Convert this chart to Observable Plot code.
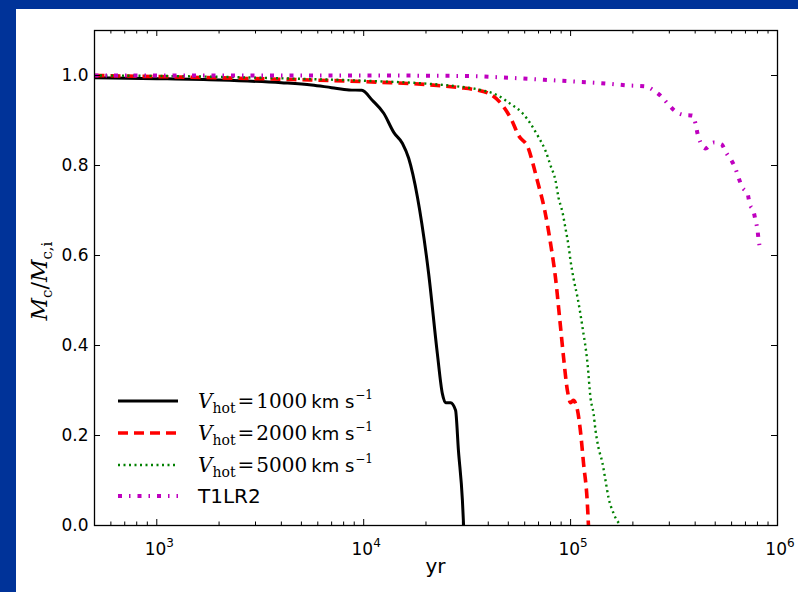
<!DOCTYPE html>
<html>
<head>
<meta charset="utf-8">
<script src="https://cdn.jsdelivr.net/npm/d3@7"></script>
<script src="https://cdn.jsdelivr.net/npm/@observablehq/plot@0.6"></script>
<style>
  html, body { margin: 0; padding: 0; background: white; }
  #wrap { position: relative; width: 798px; height: 592px; overflow: hidden; }
  #wrap svg { position: absolute; left: 0; top: 0; }
  .band { position: absolute; background: #003399; }
</style>
</head>
<body>
<div id="wrap">
  <div id="chart"></div>
  <div class="band" style="left:0;top:0;width:16px;height:592px;"></div>
  <div class="band" style="left:0;top:0;width:798px;height:9px;"></div>
</div>
<script>
// ---- data ----
const seriesNames = ["Vhot1000", "Vhot2000", "Vhot5000", "T1LR2"];

const blackT = [500, 1000, 2000, 4000, 5600, 7000, 8500, 9800, 11000, 12500, 14000, 15400, 16500, 18200, 20600, 22700, 24000, 24900, 26300, 27800, 28700, 30000, 30400];
const blackM = [0.995, 0.993, 0.990, 0.984, 0.979, 0.973, 0.968, 0.967, 0.945, 0.916, 0.873, 0.849, 0.816, 0.729, 0.560, 0.382, 0.293, 0.273, 0.273, 0.256, 0.167, 0.056, 0.0];

const redT = [500, 1500, 4600, 12000, 20000, 29000, 34000, 41000, 47000, 52000, 56000, 62500, 65500, 69000, 75000, 80000, 84500, 89000, 92500, 96500, 100000, 103000, 108000, 111500, 115500, 120500, 122000];
const redM = [1.0, 0.996, 0.991, 0.985, 0.980, 0.973, 0.969, 0.958, 0.933, 0.900, 0.867, 0.838, 0.807, 0.767, 0.700, 0.627, 0.551, 0.450, 0.373, 0.300, 0.273, 0.278, 0.256, 0.211, 0.138, 0.049, 0.0];

const greenT = [500, 1500, 4600, 12000, 20000, 29400, 36700, 44400, 51200, 58600, 64000, 70000, 75600, 80000, 84500, 87400, 91400, 94500, 97700, 99900, 103300, 108000, 114200, 120700, 124800, 129100, 132000, 136400, 142700, 147500, 152500, 161300, 174300];
const greenM = [1.0, 0.998, 0.993, 0.987, 0.982, 0.975, 0.968, 0.956, 0.937, 0.916, 0.893, 0.863, 0.833, 0.800, 0.767, 0.729, 0.696, 0.660, 0.622, 0.589, 0.549, 0.507, 0.440, 0.360, 0.284, 0.249, 0.211, 0.173, 0.138, 0.100, 0.062, 0.027, 0.0];

const magT = [500, 2000, 10000, 30000, 50000, 71500, 100000, 150800, 188400, 230200, 251700, 275100, 294000, 317900, 347500, 388400, 401600, 410600, 424600, 448800, 490700, 536400, 567000, 599500, 626700, 648000, 677500, 716300, 732500, 765800, 783100, 800800, 809700, 827900];
const magM = [1.0, 1.0, 1.0, 0.999, 0.995, 0.991, 0.987, 0.982, 0.978, 0.976, 0.967, 0.953, 0.938, 0.922, 0.913, 0.911, 0.893, 0.871, 0.851, 0.838, 0.851, 0.847, 0.827, 0.811, 0.793, 0.773, 0.751, 0.738, 0.716, 0.698, 0.678, 0.656, 0.636, 0.613];

const xMajorTicks = [1e3, 1e4, 1e5, 1e6];
const xMinorTicks = [600, 700, 800, 900,
  2000, 3000, 4000, 5000, 6000, 7000, 8000, 9000,
  20000, 30000, 40000, 50000, 60000, 70000, 80000, 90000,
  200000, 300000, 400000, 500000, 600000, 700000, 800000, 900000];
const yTicks = [0.0, 0.2, 0.4, 0.6, 0.8, 1.0];
const xTickBase = "10";
const xTickExponents = ["3", "4", "5", "6"];

const legendLabels = [
  {sym: "V", sub: "hot", num: "1000", unit: "km s", sup: "−1"},
  {sym: "V", sub: "hot", num: "2000", unit: "km s", sup: "−1"},
  {sym: "V", sub: "hot", num: "5000", unit: "km s", sup: "−1"},
  {plain: "T1LR2"}
];

// ---- build tables ----
const toRows = (T, M) => T.map((t, i) => ({t, m: M[i]}));
const black = toRows(blackT, blackM);
const red = toRows(redT, redM);
const green = toRows(greenT, greenM);
const mag = toRows(magT, magM);

const styles = [
  {stroke: "black", strokeWidth: 3, dash: null},
  {stroke: "#ff0000", strokeWidth: 3.6, dash: "10,6"},
  {stroke: "#008000", strokeWidth: 2.4, dash: "2,3.5"},
  {stroke: "#bf00bf", strokeWidth: 4, dash: "4,7,1.5,7"}
];

const W = 798, H = 592, ML = 94, MR = 21, MT = 30, MB = 67;
const PW = W - ML - MR, PH = H - MT - MB;
const major = 6, minor = 3.5;

function lineMark(rows, s) {
  return Plot.line(rows, {
    x: "t", y: "m", stroke: s.stroke, strokeWidth: s.strokeWidth,
    strokeDasharray: s.dash || undefined,
    strokeLinecap: "butt", strokeLinejoin: "round", curve: "monotone-x"
  });
}

const svg = Plot.plot({
  width: W, height: H,
  marginLeft: ML, marginRight: MR, marginTop: MT, marginBottom: MB,
  style: {fontFamily: "DejaVu Sans", background: "white", color: "black", overflow: "visible"},
  x: {type: "log", domain: [500, 1e6], axis: null},
  y: {domain: [0, 1.1]},
  marks: [
    lineMark(black, styles[0]),
    lineMark(red, styles[1]),
    lineMark(green, styles[2]),
    lineMark(mag, styles[3]),
    // inward ticks
    Plot.tickX(xMajorTicks, {x: d => d, insetTop: PH - major, stroke: "black", strokeWidth: 1}),
    Plot.tickX(xMajorTicks, {x: d => d, insetBottom: PH - major, stroke: "black", strokeWidth: 1}),
    Plot.tickX(xMinorTicks, {x: d => d, insetTop: PH - minor, stroke: "black", strokeWidth: 1}),
    Plot.tickX(xMinorTicks, {x: d => d, insetBottom: PH - minor, stroke: "black", strokeWidth: 1}),
    Plot.tickY(yTicks, {y: d => d, insetRight: PW - major, stroke: "black", strokeWidth: 1}),
    Plot.tickY(yTicks, {y: d => d, insetLeft: PW - major, stroke: "black", strokeWidth: 1}),
    Plot.axisY(yTicks, {tickSize: 0, tickPadding: 6, fontSize: 17,
      tickFormat: d => d.toFixed(1), label: null}),
    Plot.frame({stroke: "black", strokeWidth: 1.3})
  ]
});
document.getElementById("chart").appendChild(svg);

const s = d3.select(svg);
const sx = svg.scale("x");

// x tick labels 10^n, placed through the plot's x scale
const xl = s.append("g").attr("text-anchor", "middle").attr("font-family", "DejaVu Sans").attr("fill", "black");
xMajorTicks.forEach((v, i) => {
  const t = xl.append("text")
    .attr("x", sx.apply(v) + 3).attr("y", 555)
    .attr("text-anchor", "middle")
    .attr("font-size", 17);
  t.append("tspan").text(xTickBase);
  t.append("tspan").attr("font-size", 12).attr("dy", -8).text(xTickExponents[i]);
});

// axis title
s.append("text")
  .attr("x", ML + PW / 2).attr("y", 573)
  .attr("text-anchor", "middle")
  .attr("font-family", "DejaVu Sans").attr("font-size", 20)
  .attr("fill", "black")
  .text("yr");

const yl = s.append("text")
  .attr("transform", "translate(47,281) rotate(-90)")
  .attr("text-anchor", "middle")
  .attr("font-family", "DejaVu Serif").attr("font-size", 22)
  .attr("fill", "black");
yl.append("tspan").attr("font-style", "italic").text("M");
yl.append("tspan").attr("font-size", 15).attr("dy", 5).text("c");
yl.append("tspan").attr("dy", -5).text("/");
yl.append("tspan").attr("font-style", "italic").text("M");
yl.append("tspan").attr("font-size", 15).attr("dy", 5).text("c,i");

// legend
const rowsY = [401, 433, 465, 496];
const lg = s.append("g").attr("text-anchor", "start");
legendLabels.forEach((lab, i) => {
  const st = styles[i];
  lg.append("line")
    .attr("x1", 118).attr("x2", 178).attr("y1", rowsY[i]).attr("y2", rowsY[i])
    .attr("stroke", st.stroke).attr("stroke-width", st.strokeWidth)
    .attr("stroke-dasharray", st.dash)
    .attr("stroke-linecap", "butt");
  const t = lg.append("text")
    .attr("x", 198).attr("y", rowsY[i] + 7)
    .attr("text-anchor", "start")
    .attr("font-size", 20).attr("fill", "black")
    .attr("font-family", "DejaVu Sans");
  if (lab.plain) {
    t.text(lab.plain);
  } else {
    t.append("tspan").attr("font-family", "DejaVu Serif").attr("font-style", "italic").text(lab.sym);
    t.append("tspan").attr("font-family", "DejaVu Serif").attr("font-size", 14).attr("dy", 5).text(lab.sub);
    t.append("tspan").attr("font-family", "DejaVu Serif").attr("dy", -5).attr("dx", 2).text("=");
    t.append("tspan").attr("font-family", "DejaVu Serif").attr("dx", 2).text(lab.num);
    t.append("tspan").attr("font-family", "DejaVu Sans").attr("font-size", 18).attr("dx", 4).text(lab.unit);
    t.append("tspan").attr("font-family", "DejaVu Serif").attr("font-size", 12).attr("dy", -9).attr("dx", 1).text(lab.sup);
  }
});
</script>
</body>
</html>
